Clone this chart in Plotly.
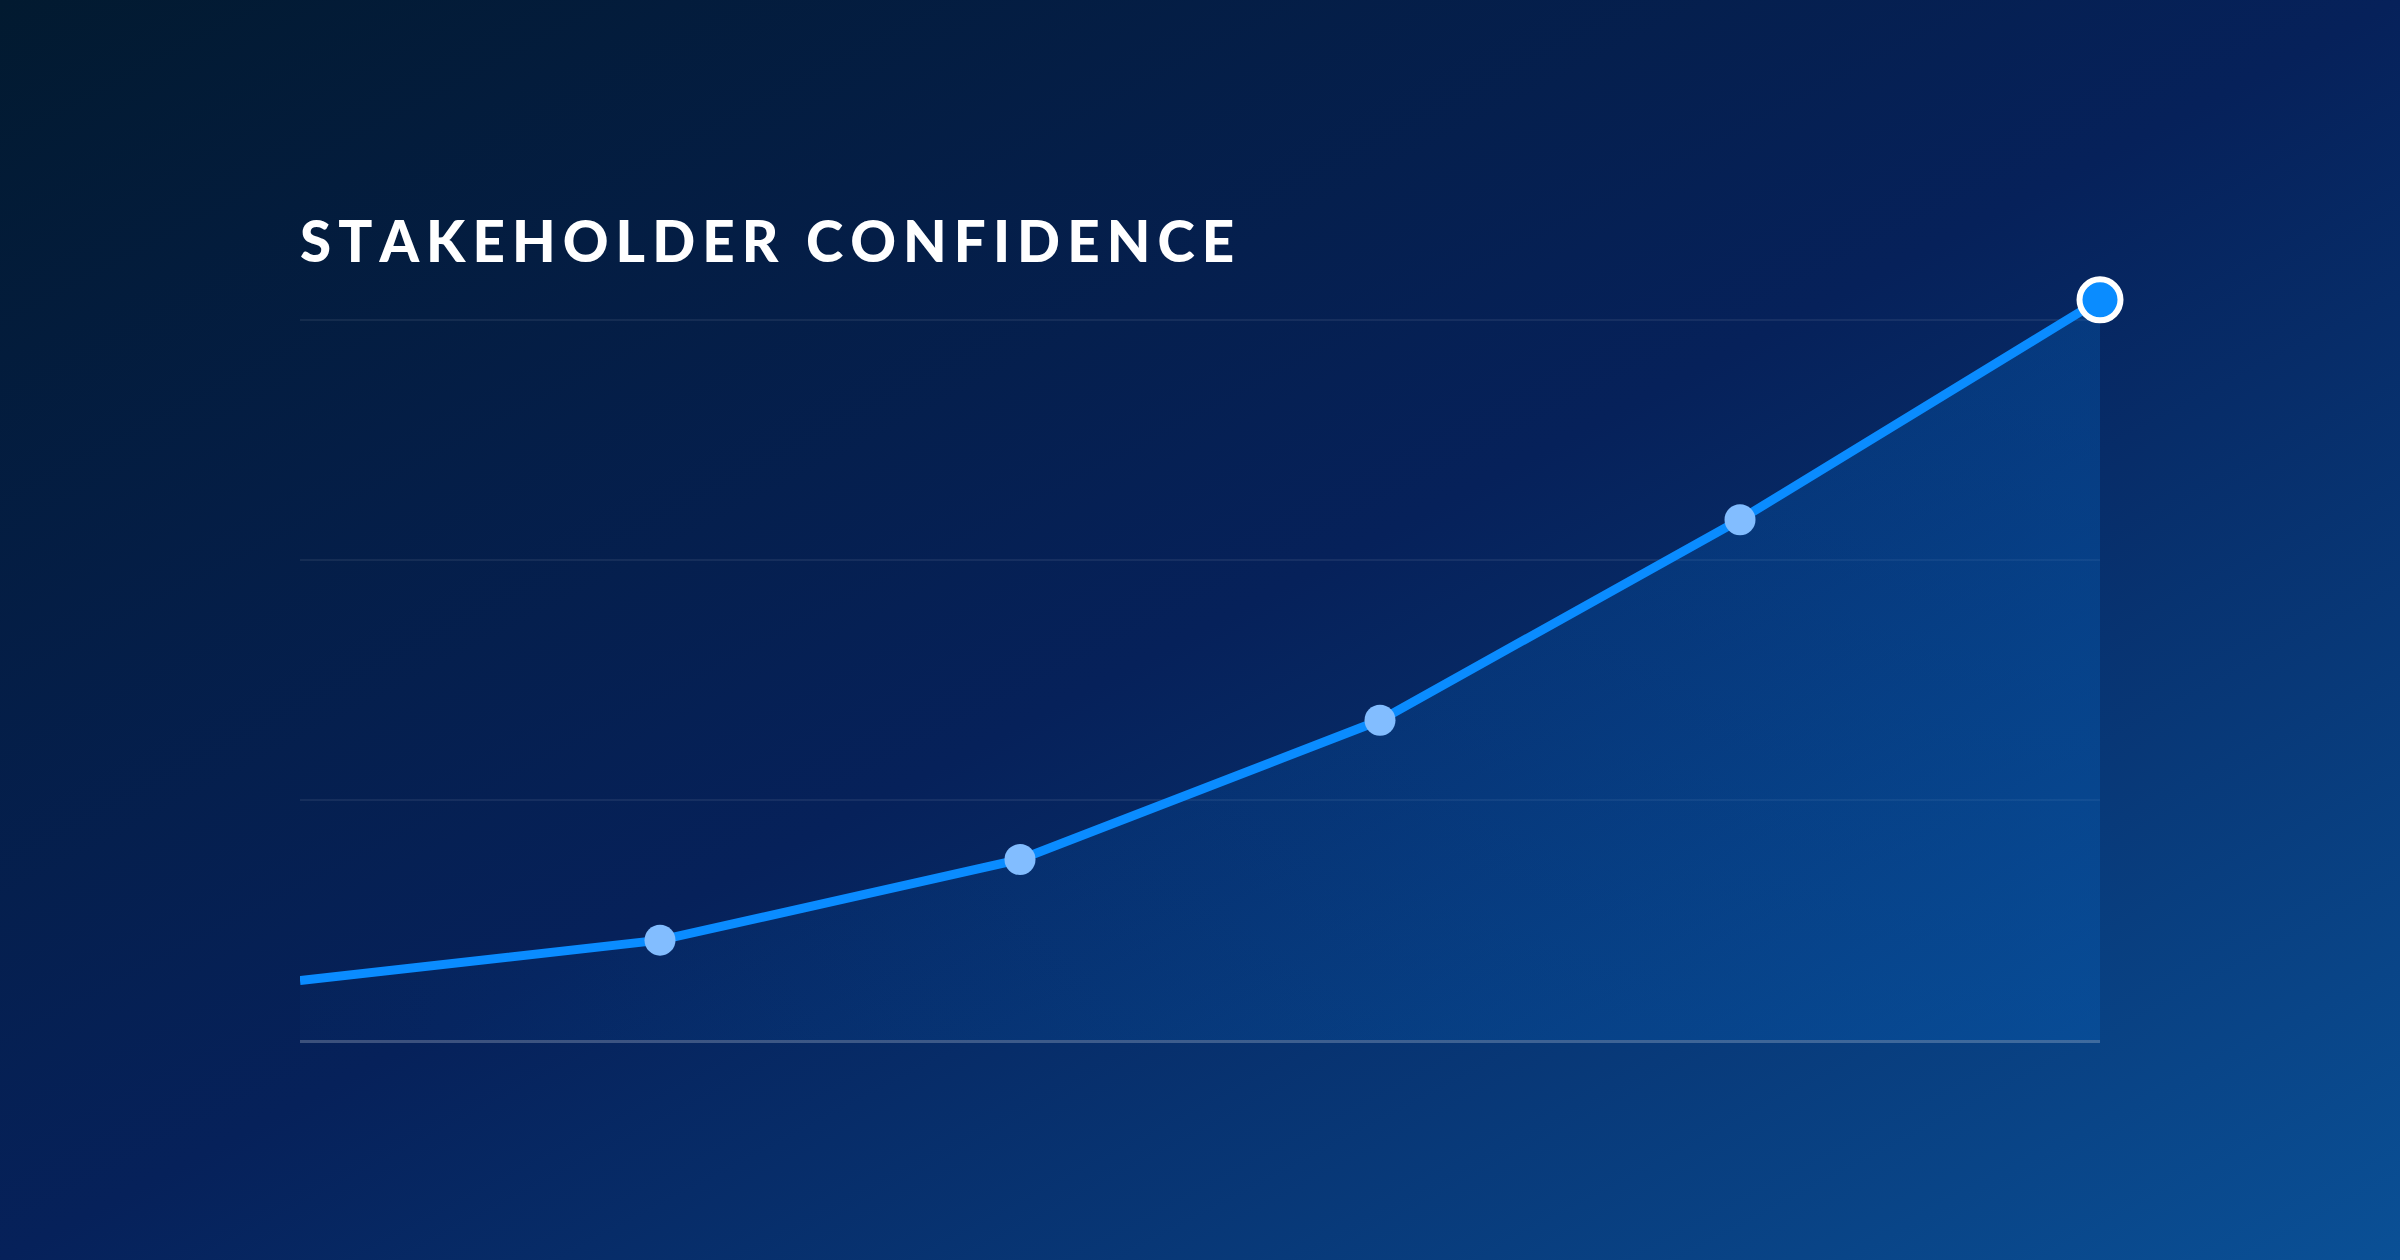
import base64
import plotly.graph_objects as go

# Data
periods = ["P1", "P2", "P3", "P4", "P5", "P6"]
confidence = [6.2, 10.4, 18.8, 33.3, 54.2, 77.1]
grid_vals = [0, 25, 50, 75]
title_text = "STAKEHOLDER CONFIDENCE"

W, H = 2400, 1260
ML, MR, MT, MB = 300, 300, 272, 220
y_max = 80

# diagonal gradient background as an svg image
svg = (
    f'<svg xmlns="http://www.w3.org/2000/svg" width="{W}" height="{H}" '
    f'viewBox="0 0 {W} {H}" preserveAspectRatio="none">'
    '<defs><linearGradient id="g" x1="0" y1="0" x2="1" y2="1">'
    '<stop offset="0" stop-color="#021a30"/>'
    '<stop offset="0.5" stop-color="#06215a"/>'
    '<stop offset="1" stop-color="#0a5096"/>'
    '</linearGradient></defs>'
    f'<rect width="{W}" height="{H}" fill="url(#g)"/></svg>'
)
bg_src = "data:image/svg+xml;base64," + base64.b64encode(svg.encode()).decode()

pw = W - ML - MR
ph = H - MT - MB

x_idx = list(range(len(periods)))

fig = go.Figure()

# area + line
fig.add_trace(go.Scatter(
    x=x_idx,
    y=confidence,
    mode="lines",
    line=dict(color="#0a8cff", width=9),
    fill="tozeroy",
    fillgradient=dict(
        type="horizontal",
        colorscale=[[0, "rgba(5,95,185,0.04)"], [1, "rgba(5,95,185,0.34)"]],
    ),
    hoverinfo="skip",
    cliponaxis=False,
))

# middle points
fig.add_trace(go.Scatter(
    x=x_idx[1:-1],
    y=confidence[1:-1],
    mode="markers",
    marker=dict(color="#82bdff", size=31, line=dict(width=0)),
    hoverinfo="skip",
    cliponaxis=False,
))

# last point, highlighted
fig.add_trace(go.Scatter(
    x=x_idx[-1:],
    y=confidence[-1:],
    mode="markers",
    marker=dict(color="#0a8cff", size=41, line=dict(color="white", width=6)),
    hoverinfo="skip",
    cliponaxis=False,
))

fig.add_layout_image(
    source=bg_src,
    xref="paper", yref="paper",
    x=-ML / pw, y=1 + MT / ph,
    sizex=W / pw, sizey=H / ph,
    xanchor="left", yanchor="top",
    sizing="stretch",
    layer="below",
)

spaced = "\u2009".join(title_text)
fig.add_annotation(
    text=spaced,
    xref="paper", yref="paper",
    x=-0.001, y=1.089,
    xanchor="left", yanchor="top",
    showarrow=False,
    font=dict(family="Lato", size=56.5, color="white", weight=900),
)

fig.update_layout(
    width=W,
    height=H,
    margin=dict(l=ML, r=MR, t=MT, b=MB),
    paper_bgcolor="#06215a",
    plot_bgcolor="rgba(0,0,0,0)",
    showlegend=False,
    hovermode=False,
    xaxis=dict(
        range=[0, len(periods) - 1],
        showgrid=False,
        zeroline=False,
        showticklabels=False,
        showline=True,
        linecolor="rgba(255,255,255,0.22)",
        linewidth=3,
        ticks="",
    ),
    yaxis=dict(
        range=[0, y_max],
        tickvals=grid_vals,
        showgrid=True,
        gridcolor="rgba(255,255,255,0.07)",
        gridwidth=2,
        zeroline=False,
        showticklabels=False,
        showline=False,
        ticks="",
    ),
)

fig.write_html(
    "out.html",
    config={"displayModeBar": False},
    post_script="document.body.style.margin='0';",
)
